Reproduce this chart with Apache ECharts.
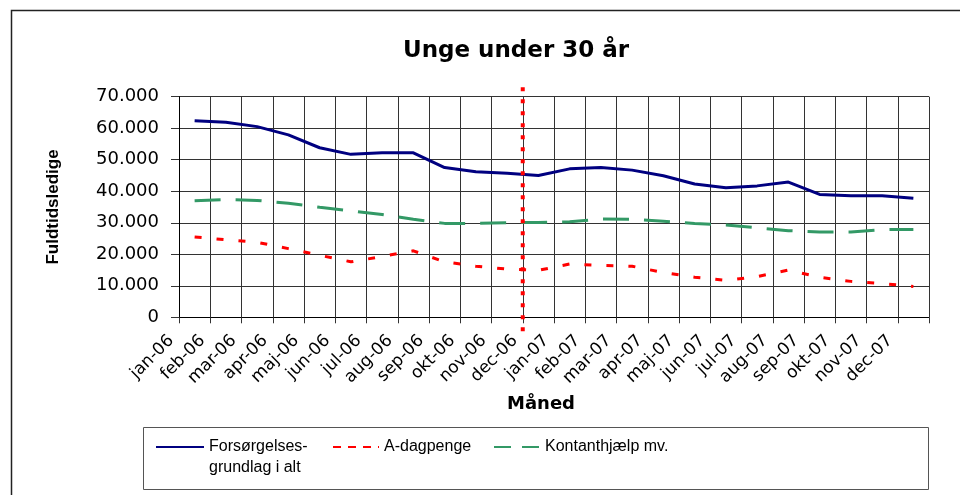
<!DOCTYPE html>
<html>
<head>
<meta charset="utf-8">
<title>Unge under 30 år</title>
<script src="https://cdn.jsdelivr.net/npm/echarts@6/dist/echarts.min.js"></script>
<style>
html, body { margin: 0; padding: 0; background: #fff; }
#main { width: 960px; height: 495px; }
</style>
</head>
<body>
<div id="main"></div>
<script>
// måneder (kategorier)
var months = ['jan-06', 'feb-06', 'mar-06', 'apr-06', 'maj-06', 'jun-06', 'jul-06', 'aug-06',
    'sep-06', 'okt-06', 'nov-06', 'dec-06', 'jan-07', 'feb-07', 'mar-07', 'apr-07',
    'maj-07', 'jun-07', 'jul-07', 'aug-07', 'sep-07', 'okt-07', 'nov-07', 'dec-07'];

// fuldtidsledige pr. måned (aflæst)
var forsorgelse = [62400, 61900, 60500, 57900, 53800, 51700, 52200, 52200, 47500, 46200, 45700, 45000,
    47100, 47500, 46700, 44900, 42300, 41100, 41700, 42900, 39000, 38600, 38600, 37800];
var dagpenge = [25500, 24600, 23800, 21800, 19700, 17600, 19300, 21100, 17600, 16200, 15300, 14900,
    16900, 16500, 16200, 14200, 12700, 11700, 12900, 15000, 12700, 11400, 10700, 9800];
var kontant = [37000, 37400, 37100, 36200, 34900, 33800, 32600, 31100, 29800, 29800, 30000, 30100,
    30300, 31200, 31100, 30500, 29800, 29300, 28400, 27500, 27100, 27100, 27800, 27900];

var seriesNames = ['Forsørgelses-\ngrundlag i alt', 'A-dagpenge', 'Kontanthjælp mv.'];

// skillelinje mellem 2006 og 2007 (kategorigrænse)
var skilleX = 11;
var skilleY = [73000, -4500];

var myChart = echarts.init(document.getElementById('main'));

function tusind(v) {
    if (v === 0) return '0';
    return (v / 1000) + '.000';
}

var legendText = { fontFamily: 'Liberation Sans', fontSize: 16, lineHeight: 21, color: '#000' };

myChart.setOption({
    animation: false,
    title: {
        text: 'Unge under 30 år',
        left: 403,
        top: 40,
        padding: 0,
        textStyle: { fontFamily: 'DejaVu Sans', fontSize: 23, fontWeight: 'bold', color: '#000' }
    },
    legend: [{
        left: 155, top: 415.5, padding: 0,
        itemWidth: 48, itemHeight: 14,
        itemStyle: { opacity: 0 },
        textStyle: legendText,
        // tom første linje, så ikonet flugter med første tekstlinje
        formatter: function (name) { return '\n' + name; },
        data: [seriesNames[0]]
    }, {
        left: 332, top: 436.5, padding: 0,
        itemWidth: 46, itemHeight: 14,
        itemStyle: { opacity: 0 },
        lineStyle: { type: [8, 7] },
        textStyle: legendText,
        data: [seriesNames[1]]
    }, {
        left: 493, top: 436.5, padding: 0,
        itemWidth: 46, itemHeight: 14,
        itemStyle: { opacity: 0 },
        lineStyle: { type: [17, 11] },
        textStyle: legendText,
        data: [seriesNames[2]]
    }],
    grid: {
        left: 179, right: 31, top: 96.7, bottom: 177.7,
        outerBoundsMode: 'none'
    },
    xAxis: [{
        type: 'category',
        data: months,
        boundaryGap: true,
        name: 'Måned',
        nameLocation: 'middle',
        nameGap: 78,
        nameTextStyle: { fontFamily: 'DejaVu Sans', fontSize: 18, fontWeight: 'bold', color: '#000', padding: [0, 26, 0, 0] },
        axisLine: { lineStyle: { color: '#000', width: 1 } },
        axisTick: { show: true, length: 6, interval: 0, lineStyle: { color: '#333' } },
        axisLabel: { show: false },
        splitLine: { show: true, interval: 0, lineStyle: { color: '#333', width: 1 } }
    }, {
        // kun til etiketter og skillelinje, placeret på kategorigrænserne
        type: 'value',
        position: 'bottom',
        min: 0,
        max: 24,
        interval: 1,
        axisLine: { show: false },
        axisTick: { show: false },
        splitLine: { show: false },
        axisLabel: {
            rotate: 45,
            margin: 13,
            padding: [0, 11, 0, 0],
            fontFamily: 'DejaVu Sans',
            fontSize: 17,
            color: '#000',
            formatter: function (v) { return months[v] || ''; }
        }
    }],
    yAxis: {
        type: 'value',
        min: 0,
        max: 70000,
        interval: 10000,
        name: 'Fuldtidsledige',
        nameLocation: 'middle',
        nameGap: 117,
        nameTextStyle: { fontFamily: 'Liberation Sans', fontSize: 17, fontWeight: 'bold', color: '#000' },
        axisLine: { show: true, lineStyle: { color: '#000', width: 1 } },
        axisTick: { show: true, length: 8, lineStyle: { color: '#333' } },
        axisLabel: {
            margin: 20,
            fontFamily: 'DejaVu Sans',
            fontSize: 18,
            color: '#000',
            formatter: tusind
        },
        splitLine: { show: true, lineStyle: { color: '#333', width: 1 } }
    },
    graphic: [{
        // ydre ramme
        type: 'rect',
        shape: { x: 11.5, y: 10.5, width: 1000, height: 600 },
        style: { fill: 'none', stroke: '#222', lineWidth: 1.5 },
        silent: true
    }, {
        // ramme om forklaring
        type: 'rect',
        shape: { x: 143.5, y: 427.5, width: 785, height: 62 },
        style: { fill: 'none', stroke: '#555', lineWidth: 1 },
        silent: true
    }],
    series: [{
        name: seriesNames[0],
        type: 'line',
        data: forsorgelse,
        symbol: 'none',
        lineStyle: { color: '#000080', width: 3 },
        itemStyle: { color: '#000080' }
    }, {
        name: seriesNames[1],
        type: 'line',
        data: dagpenge,
        symbol: 'none',
        lineStyle: { color: '#ff0000', width: 3, type: [7, 15] },
        itemStyle: { color: '#ff0000' }
    }, {
        name: seriesNames[2],
        type: 'line',
        data: kontant,
        symbol: 'none',
        lineStyle: { color: '#339966', width: 3, type: [26, 15] },
        itemStyle: { color: '#339966' }
    }, {
        type: 'line',
        xAxisIndex: 1,
        data: [[skilleX, skilleY[0]], [skilleX, skilleY[1]]],
        symbol: 'none',
        clip: false,
        silent: true,
        z: 5,
        lineStyle: { color: '#ff0000', width: 4, type: [4, 8] }
    }]
});
</script>
</body>
</html>
